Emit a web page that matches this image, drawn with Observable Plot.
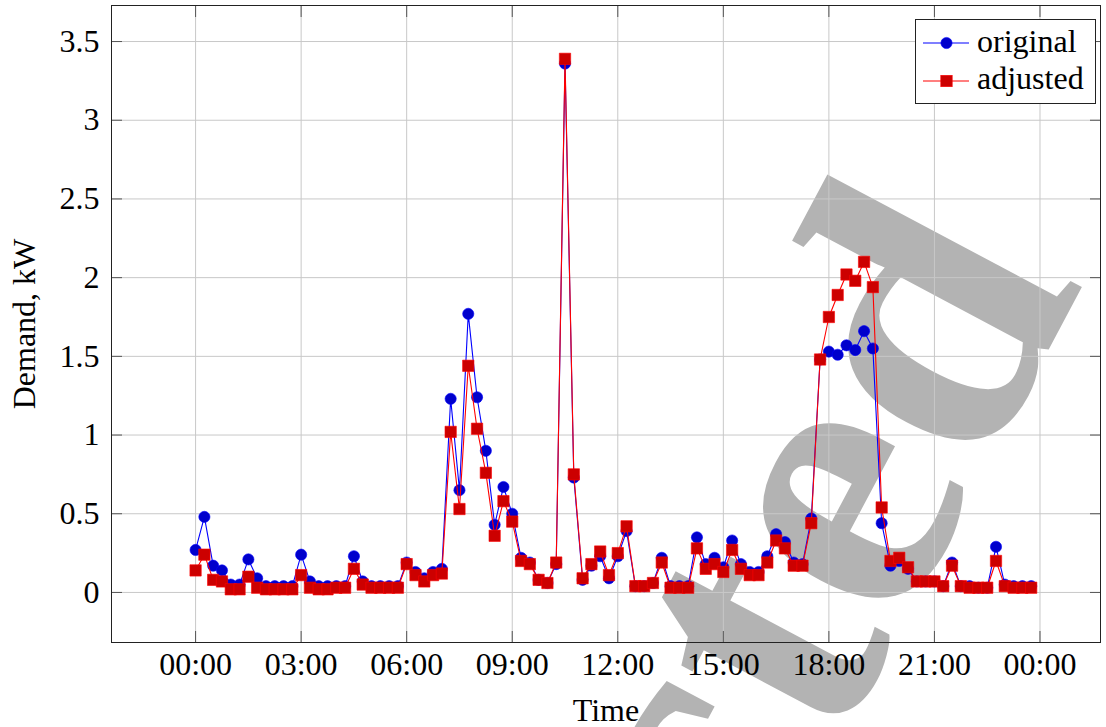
<!DOCTYPE html>
<html>
<head>
<meta charset="utf-8">
<script src="https://cdn.jsdelivr.net/npm/d3@7"></script>
<script src="https://cdn.jsdelivr.net/npm/@observablehq/plot@0.6"></script>
<style>
  body { margin: 0; background: #fff; }
  #wrap { position: relative; width: 1106px; height: 727px; overflow: hidden; font-family: "Liberation Serif", "Times New Roman", Times, serif; }
  #wm, #chart, #legend { position: absolute; left: 0; top: 0; }
  #legend { pointer-events: none; }
  #wm text, #legend text { font-family: "Liberation Serif", "Times New Roman", Times, serif; }
</style>
</head>
<body>
<div id="wrap">
  <svg id="wm" width="1106" height="727">
    <text x="1084" y="283" text-anchor="end" transform="rotate(-62 1084 283)"
          style="font-size: 400px; font-weight: bold; fill: #b3b3b3;">Rejected</text>
  </svg>
  <div id="chart"></div>
  <svg id="legend" width="1106" height="727"></svg>
</div>
<script>
// ---- data (15-minute intervals over one day) ----
const original = [
  0.27, 0.48, 0.17, 0.14, 0.05, 0.05, 0.21, 0.09, 0.04, 0.04, 0.04, 0.04,
  0.24, 0.07, 0.04, 0.04, 0.04, 0.04, 0.23, 0.07, 0.04, 0.04, 0.04, 0.04,
  0.19, 0.13, 0.09, 0.13, 0.15, 1.23, 0.65, 1.77, 1.24, 0.90, 0.43, 0.67,
  0.50, 0.22, 0.19, 0.08, 0.06, 0.18, 3.36, 0.73, 0.08, 0.17, 0.23, 0.09,
  0.23, 0.39, 0.04, 0.04, 0.06, 0.22, 0.04, 0.04, 0.04, 0.35, 0.18, 0.22,
  0.16, 0.33, 0.18, 0.13, 0.13, 0.23, 0.37, 0.32, 0.19, 0.18, 0.47, 1.48,
  1.53, 1.51, 1.57, 1.54, 1.66, 1.55, 0.44, 0.17, 0.20, 0.15, 0.07, 0.07,
  0.07, 0.04, 0.19, 0.04, 0.04, 0.03, 0.03, 0.29, 0.05, 0.04, 0.04, 0.04
];
const adjusted = [
  0.14, 0.24, 0.08, 0.07, 0.02, 0.02, 0.10, 0.03, 0.02, 0.02, 0.02, 0.02,
  0.11, 0.03, 0.02, 0.02, 0.03, 0.03, 0.15, 0.05, 0.03, 0.03, 0.03, 0.03,
  0.18, 0.11, 0.07, 0.11, 0.12, 1.02, 0.53, 1.44, 1.04, 0.76, 0.36, 0.58,
  0.45, 0.20, 0.18, 0.08, 0.06, 0.19, 3.39, 0.75, 0.09, 0.18, 0.26, 0.11,
  0.25, 0.42, 0.04, 0.04, 0.06, 0.19, 0.03, 0.03, 0.03, 0.28, 0.15, 0.18,
  0.13, 0.27, 0.15, 0.11, 0.11, 0.19, 0.33, 0.28, 0.17, 0.17, 0.44, 1.48,
  1.75, 1.89, 2.02, 1.98, 2.10, 1.94, 0.54, 0.20, 0.22, 0.16, 0.07, 0.07,
  0.07, 0.04, 0.17, 0.04, 0.03, 0.03, 0.03, 0.20, 0.04, 0.03, 0.03, 0.03
];
const seriesNames = ["original", "adjusted"];
const xTickValues = [0, 3, 6, 9, 12, 15, 18, 21, 24];
const xTickLabels = ["00:00", "03:00", "06:00", "09:00", "12:00", "15:00", "18:00", "21:00", "00:00"];
const yTickValues = [0, 0.5, 1, 1.5, 2, 2.5, 3, 3.5];
const yTickLabels = ["0", "0.5", "1", "1.5", "2", "2.5", "3", "3.5"];
const xLabel = "Time";
const yLabel = "Demand, kW";

// hour of day for each 15-minute sample
const hours = original.map((_, i) => i / 4);
const rowsO = hours.map((h, i) => ({h, v: original[i], s: seriesNames[0]}));
const rowsA = hours.map((h, i) => ({h, v: adjusted[i], s: seriesNames[1]}));

const BLUE = "#0000ff", BLUE_FILL = "#0000cc", RED = "#ff0000", RED_FILL = "#cc0000";
const GRID = "#c8c8c8", TICK = "#555";
const FONT = "'Liberation Serif', 'Times New Roman', Times, serif";

const chart = Plot.plot({
  width: 1106,
  height: 727,
  marginLeft: 111,
  marginRight: 6,
  marginTop: 5,
  marginBottom: 85,
  style: {background: "transparent", fontFamily: FONT, fontSize: "32px", color: "black", overflow: "visible"},
  x: {domain: [-2.39, 25.72]},
  y: {domain: [-0.318, 3.729]},
  marks: [
    Plot.gridX(xTickValues, {stroke: GRID, strokeOpacity: 1}),
    Plot.gridY(yTickValues, {stroke: GRID, strokeOpacity: 1}),
    Plot.axisX(xTickValues, {
      anchor: "bottom", tickSize: -11, tickPadding: 21, stroke: TICK,
      tickFormat: d => xTickLabels[xTickValues.indexOf(d)],
      label: null
    }),
    Plot.axisX([], {anchor: "bottom", tickSize: 0, dx: 8,
      label: xLabel, labelAnchor: "center", labelOffset: 78, labelArrow: "none"}),
    Plot.axisX(xTickValues, {anchor: "top", tickSize: -11, stroke: TICK, tickFormat: () => "", label: null}),
    Plot.axisY(yTickValues, {
      anchor: "left", tickSize: -11, tickPadding: 23, stroke: TICK,
      tickFormat: d => yTickLabels[yTickValues.indexOf(d)],
      label: yLabel, labelAnchor: "center", labelOffset: 99, labelArrow: "none"
    }),
    Plot.axisY(yTickValues, {anchor: "right", tickSize: -11, stroke: TICK, tickFormat: () => "", label: null}),
    Plot.line(rowsO, {x: "h", y: "v", stroke: BLUE, strokeWidth: 1.1}),
    Plot.dot(rowsO, {x: "h", y: "v", r: 5.6, fill: BLUE_FILL, stroke: BLUE, strokeWidth: 0.6}),
    Plot.line(rowsA, {x: "h", y: "v", stroke: RED, strokeWidth: 1.1}),
    Plot.dot(rowsA, {x: "h", y: "v", symbol: "square", r: 6.4, fill: RED_FILL, stroke: RED, strokeWidth: 0.6}),
    Plot.frame({stroke: "#222", strokeWidth: 1})
  ]
});
document.getElementById("chart").appendChild(chart);

// legend (top-right, inside the plot area)
const lg = d3.select("#legend");
lg.append("rect").attr("x", 915.5).attr("y", 19.5).attr("width", 180).attr("height", 84)
  .attr("fill", "white").attr("stroke", "#222");
const entries = [
  {name: seriesNames[0], stroke: BLUE, fill: BLUE_FILL, sym: "circle", y: 43, ty: 52},
  {name: seriesNames[1], stroke: RED, fill: RED_FILL, sym: "square", y: 81, ty: 89}
];
for (const e of entries) {
  lg.append("line").attr("x1", 923).attr("x2", 969).attr("y1", e.y).attr("y2", e.y)
    .attr("stroke", e.stroke).attr("stroke-width", 1.1);
  if (e.sym === "circle") {
    lg.append("circle").attr("cx", 946.5).attr("cy", e.y).attr("r", 5.6)
      .attr("fill", e.fill).attr("stroke", e.stroke).attr("stroke-width", 0.6);
  } else {
    lg.append("rect").attr("x", 946.5 - 5.7).attr("y", e.y - 5.7).attr("width", 11.4).attr("height", 11.4)
      .attr("fill", e.fill).attr("stroke", e.stroke).attr("stroke-width", 0.6);
  }
  lg.append("text").attr("x", 977).attr("y", e.ty).style("font-size", "32px")
    .attr("fill", "black").text(e.name);
}
</script>
</body>
</html>
